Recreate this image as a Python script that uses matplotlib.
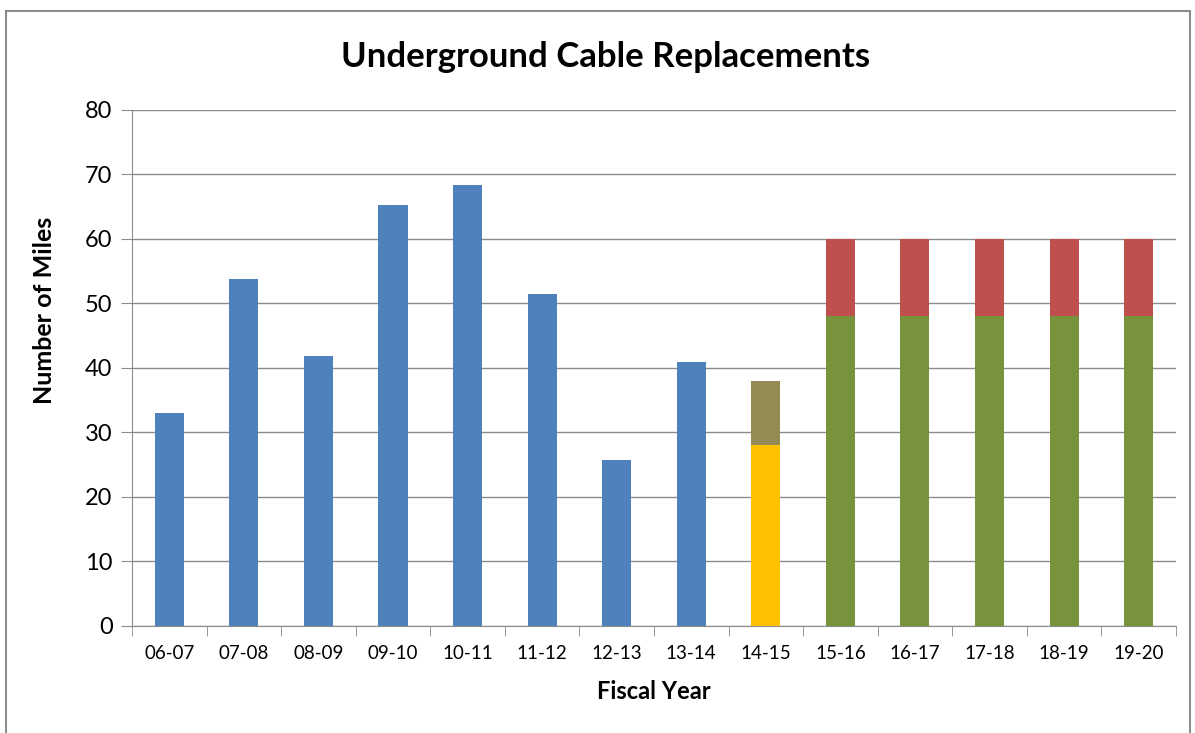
import matplotlib.pyplot as plt
import numpy as np
from matplotlib.patches import Rectangle

plt.rcParams['font.family'] = ['Lato', 'DejaVu Sans']

years = ['06-07', '07-08', '08-09', '09-10', '10-11', '11-12', '12-13',
         '13-14', '14-15', '15-16', '16-17', '17-18', '18-19', '19-20']
# completed miles per fiscal year
completed = [33, 53.8, 41.9, 65.3, 68.4, 51.4, 25.7, 40.9, 0, 0, 0, 0, 0, 0]
# 14-15 split: done so far and remaining
done_1415 = [0, 0, 0, 0, 0, 0, 0, 0, 28, 0, 0, 0, 0, 0]
rest_1415 = [0, 0, 0, 0, 0, 0, 0, 0, 10, 0, 0, 0, 0, 0]
# planned years: base plan and extra
planned = [0, 0, 0, 0, 0, 0, 0, 0, 0, 48, 48, 48, 48, 48]
extra = [0, 0, 0, 0, 0, 0, 0, 0, 0, 12, 12, 12, 12, 12]

fig = plt.figure(figsize=(11.95, 7.33), dpi=100)
ax = fig.add_axes([0.1105, 0.146, 0.8735, 0.704])

x = np.arange(len(years))
w = 0.39
ax.bar(x, completed, w, color='#4F81BD', zorder=3)
ax.bar(x, done_1415, w, color='#FFC000', zorder=3)
ax.bar(x, rest_1415, w, bottom=done_1415, color='#948A54', zorder=3)
ax.bar(x, planned, w, color='#77933C', zorder=3)
ax.bar(x, extra, w, bottom=planned, color='#C0504D', zorder=3)

ax.set_xlim(-0.5, len(years) - 0.5)
ax.set_ylim(0, 80)
ax.set_yticks(range(0, 81, 10))
ax.yaxis.grid(True, color='#8C8C8C', linewidth=1, zorder=0)

ax.set_xticks(x)
ax.set_xticklabels(years, fontsize=13.5)
ax.tick_params(axis='x', length=0, pad=14)
ax.set_xticks(np.arange(-0.5, len(years)), minor=True)
ax.tick_params(axis='x', which='minor', length=7, color='#8C8C8C', direction='out')
ax.tick_params(axis='y', labelsize=17, length=8, color='#8C8C8C', pad=6)

for s in ['top', 'right']:
    ax.spines[s].set_visible(False)
for s in ['left', 'bottom']:
    ax.spines[s].set_color('#8C8C8C')

fig.text(606 / 1195, 1 - 57 / 733, 'Underground Cable Replacements',
         fontsize=25, fontweight='bold', ha='center', va='center')
ax.set_xlabel('Fiscal Year', fontsize=17, fontweight='bold')
ax.xaxis.set_label_coords(0.5, -0.105)
ax.set_ylabel('Number of Miles', fontsize=18, fontweight='bold')
ax.yaxis.set_label_coords(-0.0725, 0.612)

fig.patches.append(Rectangle((6 / 1195, -0.01), 1184 / 1195, 1 - 11 / 733 + 0.01,
                             transform=fig.transFigure, fill=False,
                             edgecolor='#8C8C8C', linewidth=1.5))

fig.savefig('out.png', dpi=100)
